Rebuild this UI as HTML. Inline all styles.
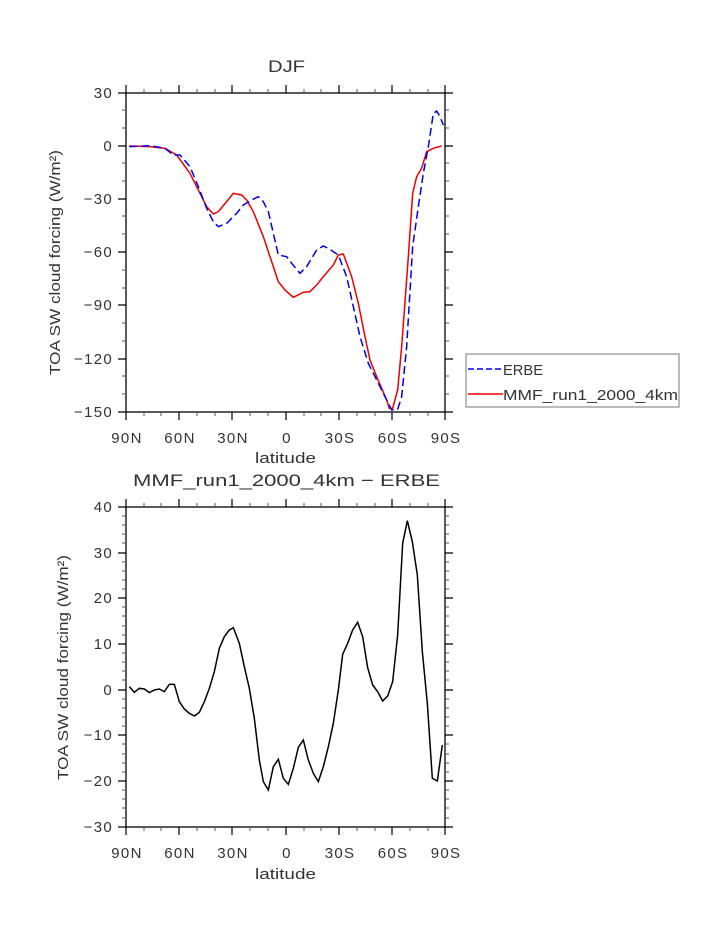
<!DOCTYPE html>
<html><head><style>
html,body{margin:0;padding:0;background:#fff;}
svg{display:block;}
text{font-family:"Liberation Sans",sans-serif;fill:#333;}
.t{font-size:15px;letter-spacing:1.3px;}
</style></head><body>
<svg width="723" height="935" viewBox="0 0 723 935" xmlns="http://www.w3.org/2000/svg">
<!-- TOP PLOT -->
<text x="268" y="72" font-size="17" textLength="37" lengthAdjust="spacingAndGlyphs">DJF</text>
<rect x="126" y="93" width="319" height="319" fill="none" stroke="#000" stroke-width="1.3"/>
<g stroke="#000" stroke-width="1.2">
<path d="M118 93H126M118 146H126M118 199H126M118 252H126M118 305H126M118 359H126M118 412H126"/>
<path d="M445 93H453M445 146H453M445 199H453M445 252H453M445 305H453M445 359H453M445 412H453"/>
<path d="M126 85V93M179 85V93M232 85V93M286 85V93M339 85V93M392 85V93M445 85V93"/>
<path d="M126 412V420M179 412V420M232 412V420M286 412V420M339 412V420M392 412V420M445 412V420"/>
</g>
<g stroke="#555" stroke-width="1">
<path d="M122 110H126M122 128H126M122 163H126M122 181H126M122 216H126M122 234H126M122 270H126M122 288H126M122 323H126M122 341H126M122 376H126M122 394H126"/>
<path d="M445 110H449M445 128H449M445 163H449M445 181H449M445 216H449M445 234H449M445 270H449M445 288H449M445 323H449M445 341H449M445 376H449M445 394H449"/>
<path d="M144 89V93M161 89V93M197 89V93M215 89V93M250 89V93M268 89V93M304 89V93M321 89V93M357 89V93M375 89V93M410 89V93M428 89V93"/>
<path d="M144 412V416M161 412V416M197 412V416M215 412V416M250 412V416M268 412V416M304 412V416M321 412V416M357 412V416M375 412V416M410 412V416M428 412V416"/>
</g>
<g class="t" text-anchor="end">
<text x="113" y="98">30</text><text x="113" y="151">0</text><text x="113" y="204">−30</text>
<text x="113" y="257">−60</text><text x="113" y="310">−90</text><text x="113" y="364">−120</text><text x="113" y="417">−150</text>
</g>
<g class="t" text-anchor="middle">
<text x="127" y="443">90N</text><text x="180" y="443">60N</text><text x="233" y="443">30N</text><text x="287" y="443">0</text>
<text x="340" y="443">30S</text><text x="393" y="443">60S</text><text x="446" y="443">90S</text>
</g>
<text x="255" y="463" font-size="15" textLength="61" lengthAdjust="spacingAndGlyphs">latitude</text>
<text transform="translate(60 375) rotate(-90)" font-size="15" textLength="225" lengthAdjust="spacingAndGlyphs">TOA SW cloud forcing (W/m²)</text>
<g transform="translate(100 80) scale(0.33333)" fill="none">
<path stroke="#e00" stroke-width="4.5" d="M88 198L150 200L195 205L230 225L270 280L300 340L320 380L340 402L355 395L380 365L400 340L425 345L440 360L460 395L490 470L510 530L535 605L555 630L580 652L610 637L630 635L650 615L670 590L700 555L715 525L730 522L755 590L775 670L795 770L810 840L830 890L860 960L868 985L878 985L893 930L905 800L925 530L938 340L950 290L965 265L980 215L1000 205L1025 198"/>
<path stroke="#00e" stroke-width="4.5" stroke-dasharray="24 12" d="M88 200L150 197L195 205L220 225L240 225L270 260L295 320L320 385L340 425L355 440L380 430L410 400L430 375L455 360L475 350L490 365L505 395L520 460L535 525L560 530L575 550L600 580L620 560L650 510L670 498L690 508L715 525L740 590L760 680L780 770L805 850L830 900L860 960L875 990L893 988L905 950L920 800L938 500L955 380L970 280L985 200L1000 100L1010 93L1020 110L1030 135"/>
</g>
<!-- legend -->
<rect x="466" y="354" width="213" height="53" fill="#fff" stroke="#777" stroke-width="1"/>
<path d="M468 369H503" stroke="#00e" stroke-width="1.5" stroke-dasharray="6 3"/>
<path d="M468 394H503" stroke="#e00" stroke-width="1.5"/>
<text x="503" y="375" font-size="15" textLength="40" lengthAdjust="spacingAndGlyphs">ERBE</text>
<text x="503" y="400" font-size="15" textLength="175" lengthAdjust="spacingAndGlyphs">MMF_run1_2000_4km</text>

<!-- BOTTOM PLOT -->
<text x="133" y="486" font-size="17" textLength="307" lengthAdjust="spacingAndGlyphs">MMF_run1_2000_4km − ERBE</text>
<rect x="126" y="507" width="319" height="320" fill="none" stroke="#000" stroke-width="1.3"/>
<g stroke="#000" stroke-width="1.2">
<path d="M118 507H126M118 553H126M118 598H126M118 644H126M118 690H126M118 735H126M118 781H126M118 827H126"/>
<path d="M445 507H453M445 553H453M445 598H453M445 644H453M445 690H453M445 735H453M445 781H453M445 827H453"/>
<path d="M126 499V507M179 499V507M232 499V507M286 499V507M339 499V507M392 499V507M445 499V507"/>
<path d="M126 827V835M179 827V835M232 827V835M286 827V835M339 827V835M392 827V835M445 827V835"/>
</g>
<g stroke="#555" stroke-width="1">
<path d="M122 516H126M122 525H126M122 534H126M122 543H126M122 562H126M122 571H126M122 580H126M122 589H126M122 607H126M122 616H126M122 626H126M122 635H126M122 653H126M122 662H126M122 671H126M122 680H126M122 699H126M122 708H126M122 717H126M122 726H126M122 744H126M122 754H126M122 763H126M122 772H126M122 790H126M122 799H126M122 808H126M122 818H126"/>
<path d="M445 516H449M445 525H449M445 534H449M445 543H449M445 562H449M445 571H449M445 580H449M445 589H449M445 607H449M445 616H449M445 626H449M445 635H449M445 653H449M445 662H449M445 671H449M445 680H449M445 699H449M445 708H449M445 717H449M445 726H449M445 744H449M445 754H449M445 763H449M445 772H449M445 790H449M445 799H449M445 808H449M445 818H449"/>
<path d="M144 503V507M161 503V507M197 503V507M215 503V507M250 503V507M268 503V507M304 503V507M321 503V507M357 503V507M375 503V507M410 503V507M428 503V507"/>
<path d="M144 827V831M161 827V831M197 827V831M215 827V831M250 827V831M268 827V831M304 827V831M321 827V831M357 827V831M375 827V831M410 827V831M428 827V831"/>
</g>
<g class="t" text-anchor="end">
<text x="113" y="512">40</text><text x="113" y="558">30</text><text x="113" y="603">20</text><text x="113" y="649">10</text>
<text x="113" y="695">0</text><text x="113" y="740">−10</text><text x="113" y="786">−20</text><text x="113" y="832">−30</text>
</g>
<g class="t" text-anchor="middle">
<text x="127" y="858">90N</text><text x="180" y="858">60N</text><text x="233" y="858">30N</text><text x="287" y="858">0</text>
<text x="340" y="858">30S</text><text x="393" y="858">60S</text><text x="446" y="858">90S</text>
</g>
<text x="255" y="879" font-size="15" textLength="61" lengthAdjust="spacingAndGlyphs">latitude</text>
<text transform="translate(68 780) rotate(-90)" font-size="15" textLength="225" lengthAdjust="spacingAndGlyphs">TOA SW cloud forcing (W/m²)</text>
<g transform="translate(100 495) scale(0.33333)" fill="none">
<path stroke="#000" stroke-width="4.5" d="M88 575L103 592L118 580L133 582L148 593L163 585L178 582L193 590L208 568L223 568L238 620L253 642L268 655L283 663L298 652L313 620L328 580L343 530L358 460L373 425L388 405L400 398L418 445L433 515L448 580L463 670L478 795L490 860L505 885L520 815L535 793L550 850L565 868L580 820L595 757L610 735L625 795L640 835L655 860L670 815L685 755L700 685L715 585L728 478L743 445L758 405L773 382L788 425L803 518L818 570L833 590L848 618L863 603L878 560L893 420L908 145L922 77L937 140L952 240L967 470L982 625L997 850L1012 858L1027 750"/>
</g>
</svg>
</body></html>
